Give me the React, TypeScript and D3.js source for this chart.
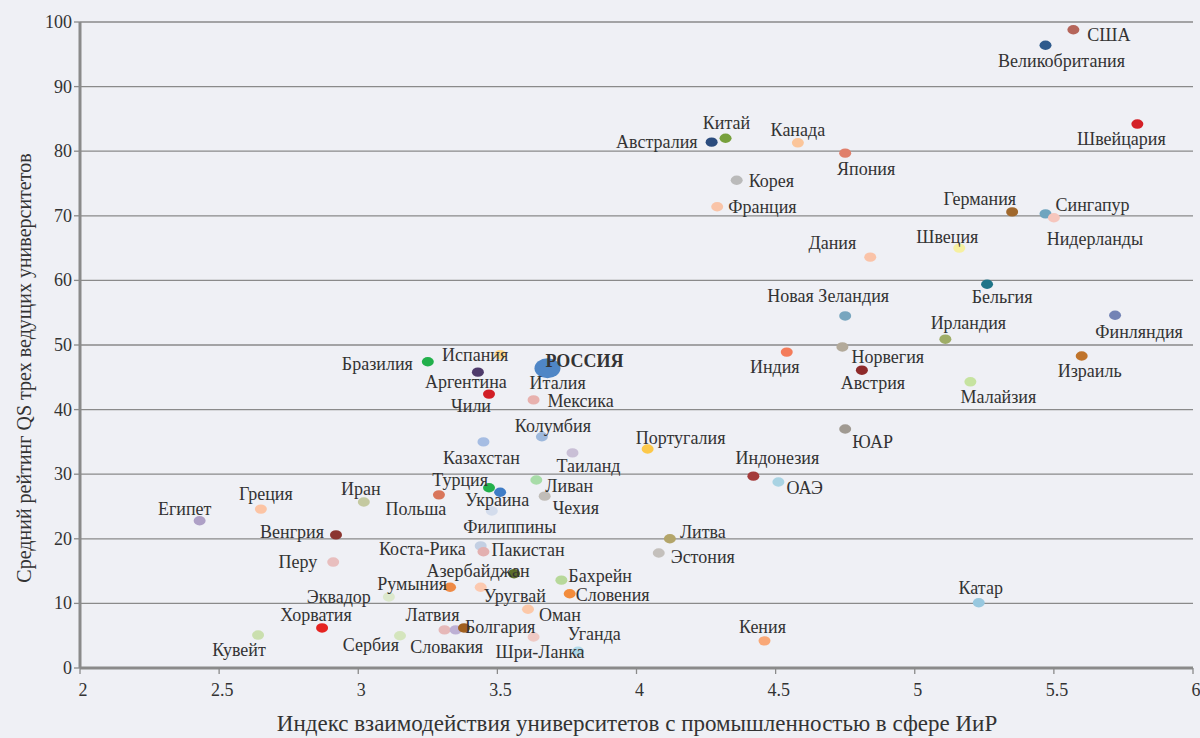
import React from 'react';
import * as d3 from 'd3';

// страны, индекс взаимодействия (x) и средний рейтинг QS (y)
const countries = [
  'США', 'Великобритания', 'Швейцария', 'Австралия', 'Китай', 'Канада', 'Япония', 'Корея', 'Франция',
  'Германия', 'Сингапур', 'Нидерланды', 'Дания', 'Швеция', 'Бельгия', 'Новая Зеландия', 'Финляндия',
  'Ирландия', 'Норвегия', 'Индия', 'Австрия', 'Израиль', 'Малайзия', 'ЮАР', 'Индонезия', 'ОАЭ',
  'Бразилия', 'Испания', 'Аргентина', 'Италия', 'Чили', 'Мексика', 'Колумбия', 'Казахстан', 'Таиланд',
  'Португалия', 'Ливан', 'Чехия', 'Турция', 'Украина', 'Польша', 'Филиппины', 'Иран', 'Греция', 'Египет',
  'Венгрия', 'Литва', 'Эстония', 'Коста-Рика', 'Пакистан', 'Перу', 'Азербайджан', 'Бахрейн', 'Румыния',
  'Уругвай', 'Словения', 'Эквадор', 'Катар', 'Оман', 'Хорватия', 'Латвия', 'Словакия', 'Болгария',
  'Кувейт', 'Сербия', 'Уганда', 'Шри-Ланка', 'Кения', 'РОССИЯ'
];

const industryIndex = [
  5.57, 5.47, 5.80, 4.27, 4.32, 4.58, 4.75, 4.36, 4.29,
  5.35, 5.47, 5.50, 4.84, 5.16, 5.26, 4.75, 5.72,
  5.11, 4.74, 4.54, 4.81, 5.60, 5.20, 4.75, 4.42, 4.51,
  3.25, 3.51, 3.43, 3.67, 3.47, 3.63, 3.66, 3.45, 3.77,
  4.04, 3.64, 3.67, 3.47, 3.51, 3.29, 3.48, 3.02, 2.65, 2.43,
  2.92, 4.12, 4.08, 3.44, 3.45, 2.91, 3.56, 3.73, 3.33,
  3.44, 3.76, 3.11, 5.23, 3.61, 2.87, 3.31, 3.35, 3.38,
  2.64, 3.15, 3.63, 3.79, 4.46, 3.68
];

const qsScore = [
  98.8, 96.4, 84.2, 81.4, 82.0, 81.3, 79.7, 75.5, 71.4,
  70.6, 70.3, 69.7, 63.6, 65.0, 59.4, 54.5, 54.6,
  50.9, 49.7, 48.9, 46.1, 48.3, 44.3, 37.0, 29.7, 28.8,
  47.4, 48.5, 45.8, 46.0, 42.4, 41.5, 35.8, 35.0, 33.3,
  33.9, 29.1, 26.6, 27.9, 27.2, 26.8, 24.3, 25.7, 24.6, 22.8,
  20.6, 20.0, 17.8, 18.9, 18.0, 16.4, 14.6, 13.6, 12.5,
  12.5, 11.5, 11.0, 10.1, 9.1, 6.2, 5.9, 5.9, 6.2,
  5.1, 5.0, 4.8, 2.6, 4.2, 46.4
];

const xTicks = [2, 2.5, 3, 3.5, 4, 4.5, 5, 5.5, 6];
const yTicks = [0, 10, 20, 30, 40, 50, 60, 70, 80, 90, 100];

const xTitle = 'Индекс взаимодействия университетов с промышленностью в сфере ИиР';
const yTitle = 'Средний рейтинг QS трех ведущих университетов';

const dotColor: Record<string, string> = {
  'США': '#b5655a', 'Великобритания': '#2e5a8c', 'Швейцария': '#d42027', 'Австралия': '#2b4c7e',
  'Китай': '#77a03c', 'Канада': '#fbc59a', 'Япония': '#e07f6b', 'Корея': '#bababa', 'Франция': '#f9c4a8',
  'Германия': '#a0682d', 'Сингапур': '#6fa5bf', 'Нидерланды': '#f6c6bd', 'Дания': '#fac3a8',
  'Швеция': '#f6f0a0', 'Бельгия': '#1f7488', 'Новая Зеландия': '#78a6bf', 'Финляндия': '#7383b5',
  'Ирландия': '#9fad67', 'Норвегия': '#b3aa9a', 'Индия': '#f47c5a', 'Австрия': '#8e2a2a',
  'Израиль': '#c0742b', 'Малайзия': '#c6e3a0', 'ЮАР': '#a09a92', 'Индонезия': '#a43b3b', 'ОАЭ': '#a9d3e3',
  'Бразилия': '#22b04b', 'Испания': '#fbd88c', 'Аргентина': '#4f3b6b', 'Италия': '#c9c9c9', 'Чили': '#d21f26',
  'Мексика': '#e8b1ae', 'Колумбия': '#9db8dc', 'Казахстан': '#a6bde3', 'Таиланд': '#c9bfd6',
  'Португалия': '#fcc84a', 'Ливан': '#a8dca8', 'Чехия': '#c1bdb8', 'Турция': '#22b04b', 'Украина': '#3f7cc6',
  'Польша': '#d9765b', 'Филиппины': '#d3dcec', 'Иран': '#c4c9a0', 'Греция': '#fcc4a4', 'Египет': '#aea0c6',
  'Венгрия': '#8b3530', 'Литва': '#b3a56a', 'Эстония': '#c4c0bc', 'Коста-Рика': '#c3cfe3',
  'Пакистан': '#e3b0b0', 'Перу': '#e8bebe', 'Азербайджан': '#5b6e2a', 'Бахрейн': '#b7d89a',
  'Румыния': '#ee8a45', 'Уругвай': '#fcc9b0', 'Словения': '#f28c3c', 'Эквадор': '#dce8cc', 'Катар': '#98c8df',
  'Оман': '#fcc8a8', 'Хорватия': '#e52320', 'Латвия': '#e6b8b8', 'Словакия': '#bdb0d4', 'Болгария': '#a0601f',
  'Кувейт': '#cadfae', 'Сербия': '#d4e5bd', 'Уганда': '#efc9c4', 'Шри-Ланка': '#b0d8e8', 'Кения': '#f9a878',
  'РОССИЯ': '#4f86c6'
};

// подписи: [привязка, dx, dy]
type Anchor = 'start' | 'middle' | 'end';
const labelPos: Record<string, [Anchor, number, number]> = {
  'США': ['start', 14, 11], 'Великобритания': ['middle', 16, 22], 'Швейцария': ['middle', -16, 21],
  'Австралия': ['end', -14, 6], 'Китай': ['middle', 1, -9], 'Канада': ['middle', 0, -7],
  'Япония': ['middle', 21, 22], 'Корея': ['start', 12, 7], 'Франция': ['start', 11, 6],
  'Германия': ['end', 4, -7], 'Сингапур': ['start', 10, -3], 'Нидерланды': ['middle', 41, 27],
  'Дания': ['end', -14, -8], 'Швеция': ['middle', -12, -5], 'Бельгия': ['middle', 15, 19],
  'Новая Зеландия': ['middle', -17, -14], 'Финляндия': ['middle', 24, 23], 'Ирландия': ['middle', 23, -10],
  'Норвегия': ['start', 9, 16], 'Индия': ['middle', -12, 21], 'Австрия': ['middle', 11, 19],
  'Израиль': ['middle', 8, 21], 'Малайзия': ['middle', 28, 21], 'ЮАР': ['start', 7, 19],
  'Индонезия': ['middle', 24, -12], 'ОАЭ': ['start', 8, 12], 'Бразилия': ['end', -15, 8],
  'Испания': ['middle', -25, 6], 'Аргентина': ['middle', -12, 16], 'Италия': ['middle', 13, 18],
  'Чили': ['middle', -18, 18], 'Мексика': ['start', 14, 7], 'Колумбия': ['middle', 11, -5],
  'Казахстан': ['middle', -2, 22], 'Таиланд': ['middle', 16, 19], 'Португалия': ['middle', 33, -5],
  'Ливан': ['start', 9, 12], 'Чехия': ['start', 8, 18], 'Турция': ['end', -1, -2],
  'Украина': ['middle', -3, 14], 'Польша': ['middle', -23, 20], 'Филиппины': ['middle', 18, 22],
  'Иран': ['middle', -3, -7], 'Греция': ['middle', 5, -9], 'Египет': ['middle', -15, -6],
  'Венгрия': ['end', -12, 3], 'Литва': ['start', 10, -1], 'Эстония': ['start', 12, 10],
  'Коста-Рика': ['end', -15, 9], 'Пакистан': ['start', 8, 4], 'Перу': ['end', -16, 6],
  'Азербайджан': ['middle', -36, 3], 'Бахрейн': ['start', 7, 2], 'Румыния': ['end', -3, 3],
  'Уругвай': ['middle', 34, 15], 'Словения': ['start', 6, 7], 'Эквадор': ['end', -18, 6],
  'Катар': ['middle', 2, -9], 'Оман': ['start', 11, 12], 'Хорватия': ['middle', -6, -7],
  'Латвия': ['middle', -12, -9], 'Словакия': ['middle', -9, 23], 'Болгария': ['start', 1, 5],
  'Кувейт': ['middle', -19, 21], 'Сербия': ['end', -1, 15], 'Уганда': ['start', 34, 3],
  'Шри-Ланка': ['middle', -38, 7], 'Кения': ['middle', -2, -8], 'РОССИЯ': ['start', -2, -1]
};

const W = 1200, H = 738;
const left = 80, right = 1193, top = 22, bottom = 668;
const font = '"Liberation Serif", "DejaVu Serif", serif';
const textColor = '#333';
const axisColor = '#8a8a8a';

export default function App() {
  const x = d3.scaleLinear().domain([2, 6]).range([left, right]);
  const y = d3.scaleLinear().domain([0, 100]).range([bottom, top]);

  const points = countries.map((c, i) => ({ name: c, x: industryIndex[i], y: qsScore[i] }));

  return (
    <svg width={W} height={H} style={{ position: 'absolute', left: 0, top: 0 }} fontFamily={font}>
      <rect width={W} height={H} fill="#eff0f5" />

      {/* сетка */}
      {yTicks.filter(t => t > 0).map(t => (
        <line key={'g' + t} x1={left} x2={right} y1={y(t)} y2={y(t)} stroke={axisColor} strokeWidth={1.3} />
      ))}

      {/* оси */}
      <line x1={left} x2={left} y1={top} y2={bottom} stroke={axisColor} strokeWidth={3} />
      <line x1={left} x2={right} y1={bottom} y2={bottom} stroke={axisColor} strokeWidth={3} />

      {yTicks.map(t => (
        <g key={'y' + t}>
          <line x1={left - 6} x2={left} y1={y(t)} y2={y(t)} stroke={axisColor} strokeWidth={1.3} />
          <text x={left - 8} y={y(t)} dy="0.33em" textAnchor="end" fontSize={18} fill={textColor}>{t}</text>
        </g>
      ))}
      {xTicks.map(t => (
        <g key={'x' + t}>
          <line x1={x(t)} x2={x(t)} y1={bottom} y2={bottom + 6} stroke={axisColor} strokeWidth={1.3} />
          <text x={x(t) + 3} y={bottom + 28} textAnchor="middle" fontSize={18} fill={textColor}>{t}</text>
        </g>
      ))}

      <text x={637} y={731} textAnchor="middle" fontSize={23} fill={textColor}>{xTitle}</text>
      <text transform={`translate(31,${368}) rotate(-90)`} textAnchor="middle" fontSize={20}
        fill={textColor}>{yTitle}</text>

      {/* точки */}
      {points.map(p => p.name === 'РОССИЯ'
        ? <ellipse key={p.name} cx={x(p.x)} cy={y(p.y)} rx={13} ry={10} fill={dotColor[p.name]} />
        : <ellipse key={p.name} cx={x(p.x)} cy={y(p.y)} rx={6} ry={4.7} fill={dotColor[p.name]} />
      )}

      {/* подписи */}
      {points.map(p => {
        const [anchor, dx, dy] = labelPos[p.name];
        const isRu = p.name === 'РОССИЯ';
        return (
          <text key={'l' + p.name} x={x(p.x) + dx} y={y(p.y) + dy} textAnchor={anchor}
            fontSize={18} fontWeight={isRu ? 'bold' : 'normal'} fill={textColor}>
            {p.name}
          </text>
        );
      })}
    </svg>
  );
}
